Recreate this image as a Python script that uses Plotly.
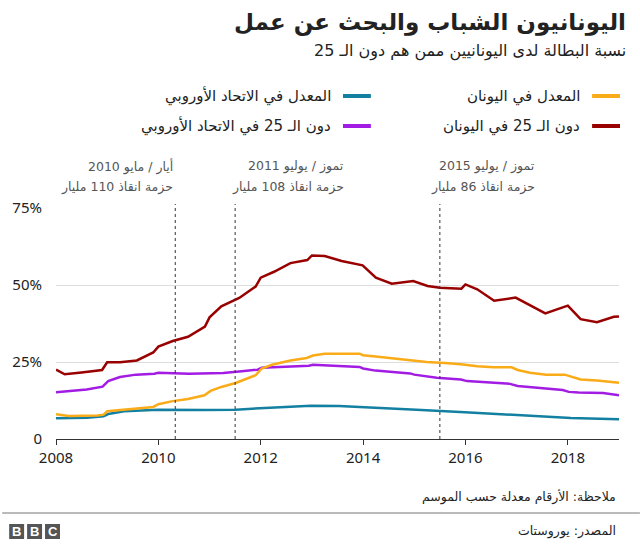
import plotly.graph_objects as go

# ---- data (decimal years, percent) ----
gr_u25_x = [2008.0, 2008.17, 2008.5, 2008.9, 2009.0, 2009.25, 2009.58, 2009.9, 2010.0, 2010.28,
            2010.58, 2010.91, 2011.0, 2011.23, 2011.58, 2011.9, 2012.0, 2012.26, 2012.58, 2012.91,
            2013.0, 2013.25, 2013.58, 2013.99, 2014.25, 2014.56, 2014.98, 2015.26, 2015.5, 2015.92,
            2016.0, 2016.23, 2016.56, 2016.98, 2017.56, 2018.0, 2018.25, 2018.57, 2018.9, 2019.0]
gr_u25_y = [22.5, 21.0, 21.6, 22.4, 24.9, 24.9, 25.5, 28.1, 30.0, 31.8,
            33.2, 36.5, 39.5, 43.1, 45.8, 49.5, 52.4, 54.3, 57.1, 58.1,
            59.6, 59.4, 57.8, 56.4, 52.4, 50.4, 51.3, 49.7, 49.1, 48.8,
            50.2, 48.6, 44.9, 45.9, 40.8, 43.3, 38.9, 37.9, 39.7, 39.8]

gr_all_x = [2008.0, 2008.25, 2008.81, 2008.93, 2009.0, 2009.25, 2009.6, 2009.9, 2010.0, 2010.28,
            2010.58, 2010.9, 2011.02, 2011.23, 2011.51, 2011.9, 2012.02, 2012.22, 2012.58, 2012.9,
            2013.02, 2013.25, 2013.93, 2014.0, 2014.29, 2014.6, 2014.96, 2015.24, 2015.6, 2015.91,
            2016.23, 2016.55, 2016.9, 2017.02, 2017.26, 2017.58, 2017.94, 2018.25, 2018.57, 2019.0]
gr_all_y = [8.0, 7.5, 7.6, 7.9, 9.0, 9.4, 10.0, 10.4, 11.3, 12.3,
            13.0, 14.2, 15.6, 16.9, 18.2, 20.7, 22.9, 24.1, 25.5, 26.3,
            27.1, 27.7, 27.7, 27.2, 26.7, 26.1, 25.6, 25.0, 24.7, 24.3,
            23.6, 23.3, 23.3, 22.4, 21.5, 20.9, 20.9, 19.3, 19.0, 18.3]

eu_u25_x = [2008.0, 2008.6, 2008.91, 2009.02, 2009.25, 2009.56, 2009.92, 2010.0, 2010.6, 2011.27,
            2011.63, 2011.94, 2012.02, 2012.62, 2012.94, 2013.02, 2013.93, 2014.0, 2014.24, 2014.92,
            2015.0, 2015.44, 2015.91, 2016.03, 2016.87, 2017.02, 2017.9, 2018.02, 2018.21, 2018.69, 2019.0]
eu_u25_y = [15.2, 16.1, 17.0, 18.8, 20.1, 20.9, 21.2, 21.5, 21.2, 21.4,
            22.0, 22.5, 23.1, 23.5, 23.8, 24.1, 23.4, 22.9, 22.2, 21.3,
            20.9, 19.9, 19.3, 18.8, 17.9, 17.2, 15.9, 15.3, 15.1, 14.9, 14.2]

eu_all_x = [2008.0, 2008.61, 2008.93, 2009.02, 2009.33, 2010.0, 2010.91, 2011.51, 2011.98, 2012.5,
            2012.98, 2013.53, 2013.93, 2014.48, 2014.88, 2015.04, 2015.99, 2016.71, 2017.26, 2017.58,
            2018.06, 2019.0]
eu_all_y = [6.7, 6.9, 7.4, 8.1, 9.0, 9.5, 9.4, 9.5, 10.0, 10.5,
            10.8, 10.7, 10.4, 9.9, 9.8, 9.5, 8.7, 8.1, 7.5, 7.4,
            6.8, 6.4]

x_ticks = [2008, 2010, 2012, 2014, 2016, 2018]
y_ticks = [0, 25, 50, 75]
y_tick_text = ["0", "25%", "50%", "75%"]

events_x = [2010.33, 2011.5, 2015.5]
events_line1 = ["أيار / مايو 2010", "تموز / يوليو 2011", "تموز / يوليو 2015"]
events_line2 = ["حزمة انقاذ 110 مليار", "حزمة انقاذ 108 مليار", "حزمة انقاذ 86 مليار"]
events_text_right = [2010.33, 2013.66, 2017.40]

legend_names = ["المعدل في اليونان", "دون الـ 25 في اليونان",
                "المعدل في الاتحاد الأوروبي", "دون الـ 25 في الاتحاد الأوروبي"]

title = "اليونانيون الشباب والبحث عن عمل"
subtitle = "نسبة البطالة لدى اليونانيين ممن هم دون الـ 25"
note = "ملاحظة: الأرقام معدلة حسب الموسم"
source = "المصدر: يوروستات"

# ---- styles ----
C_ORANGE = "#FAAB18"
C_RED = "#990000"
C_TEAL = "#1380A1"
C_PURPLE = "#A21CE3"
AR_FONT = "DejaVu Sans"
NUM_FONT = "Noto Sans"

W, H = 640, 545
L, R, T, B = 54, 21, 208, 106
PW, PH = W - L - R, H - T - B


def px(x):
    return (x - L) / PW


def py(y):
    return (H - B - y) / PH


fig = go.Figure()
series = [
    (eu_all_x, eu_all_y, C_TEAL),
    (eu_u25_x, eu_u25_y, C_PURPLE),
    (gr_all_x, gr_all_y, C_ORANGE),
    (gr_u25_x, gr_u25_y, C_RED),
]
for xs, ys, c in series:
    fig.add_trace(go.Scatter(x=xs, y=ys, mode="lines", line=dict(color=c, width=2.5),
                             showlegend=False, hoverinfo="skip"))

shapes = []
annotations = []

# event dotted lines
for ex in events_x:
    shapes.append(dict(type="line", xref="x", yref="paper", x0=ex, x1=ex, y0=0, y1=py(204),
                       line=dict(color="#333", width=1, dash="dot")))
for xr, l1, l2 in zip(events_text_right, events_line1, events_line2):
    annotations.append(dict(xref="x", yref="paper", x=xr, y=py(166), text=l1, showarrow=False,
                            xanchor="right", yanchor="middle",
                            font=dict(family=AR_FONT, size=12.5, color="#555")))
    annotations.append(dict(xref="x", yref="paper", x=xr, y=py(187), text=l2, showarrow=False,
                            xanchor="right", yanchor="middle",
                            font=dict(family=AR_FONT, size=12.5, color="#555")))

# legend (RTL: swatch on right)
leg_pos = [(620, 96, C_ORANGE), (620, 126, C_RED), (370, 96, C_TEAL), (370, 126, C_PURPLE)]
for (xr, yy, c), name in zip(leg_pos, legend_names):
    shapes.append(dict(type="line", xref="paper", yref="paper", x0=px(xr - 28), x1=px(xr),
                       y0=py(yy), y1=py(yy), line=dict(color=c, width=4)))
    annotations.append(dict(xref="paper", yref="paper", x=px(xr - 38), y=py(yy), text=name,
                            showarrow=False, xanchor="right", yanchor="middle",
                            font=dict(family=AR_FONT, size=15, color="#222")))

# title & subtitle
annotations.append(dict(xref="paper", yref="paper", x=px(628), y=py(22), text="<b>" + title + "</b>",
                        showarrow=False, xanchor="right", yanchor="middle",
                        font=dict(family=AR_FONT, size=23, color="#222")))
annotations.append(dict(xref="paper", yref="paper", x=px(628), y=py(51), text=subtitle,
                        showarrow=False, xanchor="right", yanchor="middle",
                        font=dict(family=AR_FONT, size=16, color="#222")))

# footer
annotations.append(dict(xref="paper", yref="paper", x=px(618), y=py(497), text=note,
                        showarrow=False, xanchor="right", yanchor="middle",
                        font=dict(family=AR_FONT, size=12.5, color="#222")))
annotations.append(dict(xref="paper", yref="paper", x=px(618), y=py(531), text=source,
                        showarrow=False, xanchor="right", yanchor="middle",
                        font=dict(family=AR_FONT, size=12.5, color="#222")))
shapes.append(dict(type="line", xref="paper", yref="paper", x0=px(0), x1=px(640), y0=py(513), y1=py(513),
                   line=dict(color="#777", width=1)))
for i, letter in enumerate("BBC"):
    x0 = 7 + i * 18
    shapes.append(dict(type="rect", xref="paper", yref="paper", x0=px(x0), x1=px(x0 + 15),
                       y0=py(539), y1=py(524), fillcolor="#555", line=dict(width=0)))
    annotations.append(dict(xref="paper", yref="paper", x=px(x0 + 7.5), y=py(531.5), text="<b>" + letter + "</b>",
                            showarrow=False, xanchor="center", yanchor="middle",
                            font=dict(family="Liberation Sans", size=13, color="white")))

fig.update_layout(
    width=W, height=H,
    margin=dict(l=L, r=R, t=T, b=B),
    paper_bgcolor="white", plot_bgcolor="white",
    shapes=shapes, annotations=annotations,
    xaxis=dict(range=[2008, 2019], tickvals=x_ticks, ticktext=[str(v) for v in x_ticks],
               showgrid=False, zeroline=False, showline=True, linecolor="#333", linewidth=1,
               ticks="outside", ticklen=5, tickcolor="#333",
               tickfont=dict(family=NUM_FONT, size=15, color="#222"), fixedrange=True),
    yaxis=dict(range=[0, 75], tickvals=y_ticks, ticktext=y_tick_text,
               showgrid=True, gridcolor="#dddddd", gridwidth=1, zeroline=False, showline=False,
               ticks="outside", ticklen=10, tickcolor="rgba(0,0,0,0)",
               tickfont=dict(family=NUM_FONT, size=15, color="#222"), fixedrange=True),
)

fig.write_html("out.html")
